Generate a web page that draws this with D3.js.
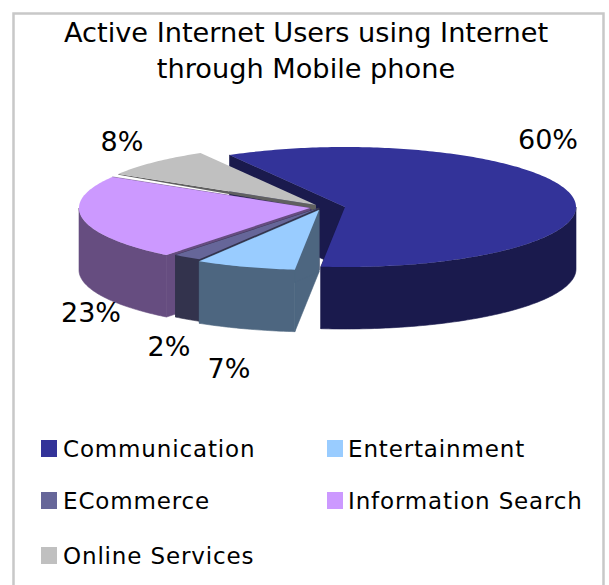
<!DOCTYPE html>
<html>
<head>
<meta charset="utf-8">
<script src="https://cdn.jsdelivr.net/npm/d3@7"></script>
<style>
  html, body { margin: 0; padding: 0; background: #fff; }
  svg { display: block; }
  text { font-family: "DejaVu Sans", Verdana, sans-serif; fill: #000; }
</style>
</head>
<body>
<svg id="chart" width="609" height="585"></svg>
<script>
// Share of active internet users per mobile activity
const categories = ["Communication", "Entertainment", "ECommerce", "Information Search", "Online Services"];
const shares = [60, 7, 2, 23, 8];
const titleLines = ["Active Internet Users using Internet", "through Mobile phone"];

const topColors = ["#333399", "#99ccff", "#666699", "#cc99ff", "#c0c0c0"];
const wallColors = ["#1a1a4d", "#4d6680", "#33334d", "#664d80", "#606060"];

// Each exploded wedge sits on its own apex
const apexX = [345, 319, 319, 310, 316];
const apexY = [207, 210, 208, 208, 205];
const labelX = [548, 229, 169, 91, 122];
const labelY = [149, 378, 356, 322, 151];

const rx = 231, ry = 60, depth = 62;

const svg = d3.select("#chart");

svg.append("path")
  .attr("d", "M13.5,585V13.5H603.5V585")
  .attr("fill", "none")
  .attr("stroke", "#c8c8c8")
  .attr("stroke-width", 2.5);

svg.selectAll("text.title")
  .data(titleLines)
  .join("text")
  .attr("class", "title")
  .attr("x", 306)
  .attr("y", (d, i) => 42 + i * 36)
  .attr("text-anchor", "middle")
  .attr("font-size", 27.2)
  .text(d => d);

const startDeg = -30;
const pie = d3.pie().sort(null)
  .startAngle(startDeg * Math.PI / 180)
  .endAngle((startDeg + 360) * Math.PI / 180);
const slices = pie(shares);

// Maps a pie angle on to the tilted ellipse around a wedge's apex
const rim = (i, a, drop = 0) => [
  apexX[i] + rx * Math.sin(a),
  apexY[i] - ry * Math.cos(a) + drop
];
const outline = d3.line();

function arcPoints(i, a0, a1, drop) {
  const n = Math.max(2, Math.ceil((a1 - a0) * 60));
  return d3.range(n + 1).map(k => rim(i, a0 + (a1 - a0) * k / n, drop));
}

function radialWall(i, a) {
  const apex = [apexX[i], apexY[i]];
  return [apex, rim(i, a), rim(i, a, depth), [apex[0], apex[1] + depth]];
}

// Thin seam plus a short stub at the apex, for a wall that is nearly edge-on
function seamWall(i, a) {
  const apex = [apexX[i], apexY[i]];
  const [ex, ey] = rim(i, a);
  return [apex, [ex, ey], [ex, ey + 0.8], [apex[0] - 8, apex[1] + 3], [apex[0], apex[1] + 7]];
}

function rimWall(i, a0, a1) {
  // Only the part of the rim that faces the viewer is visible
  const lo = Math.max(a0, Math.PI / 2), hi = Math.min(a1, Math.PI * 1.5);
  if (hi <= lo) return null;
  return arcPoints(i, lo, hi, 0).concat(arcPoints(i, lo, hi, depth).reverse());
}

// Back-to-front: the large wedge first, the front wedge last
const paintOrder = [0, 4, 3, 2, 1];
const seamWedge = categories.indexOf("Online Services");

const wedges = svg.selectAll("g.wedge")
  .data(paintOrder)
  .join("g")
  .attr("class", "wedge");

wedges.each(function (i) {
  const g = d3.select(this);
  const s = slices[i];
  const walls = i === seamWedge
    ? [seamWall(i, s.startAngle)]
    : [radialWall(i, s.startAngle), radialWall(i, s.endAngle)];
  const side = rimWall(i, s.startAngle, s.endAngle);
  if (side) walls.push(side);
  g.selectAll("path.wall")
    .data(walls)
    .join("path")
    .attr("class", "wall")
    .attr("d", d => outline(d) + "Z")
    .attr("fill", wallColors[i])
    .attr("stroke", i === seamWedge ? "none" : wallColors[i])
    .attr("stroke-width", 0.6);
  const top = [[apexX[i], apexY[i]]].concat(arcPoints(i, s.startAngle, s.endAngle, 0));
  g.append("path")
    .attr("class", "top")
    .attr("d", outline(top) + "Z")
    .attr("fill", topColors[i]);
});

svg.selectAll("text.pct")
  .data(shares)
  .join("text")
  .attr("class", "pct")
  .attr("x", (d, i) => labelX[i])
  .attr("y", (d, i) => labelY[i])
  .attr("text-anchor", "middle")
  .attr("font-size", 27)
  .text(d => d + "%");

// Two-column legend, filled row by row
const legendCol = d3.scaleOrdinal().domain([0, 1]).range([41, 327]);
const legendRow = d3.scaleOrdinal().domain([0, 1, 2]).range([440, 492, 547]);

const legend = svg.selectAll("g.legend")
  .data(categories)
  .join("g")
  .attr("class", "legend")
  .attr("transform", (d, i) => `translate(${legendCol(i % 2)},${legendRow(Math.floor(i / 2))})`);

legend.append("rect")
  .attr("width", 16)
  .attr("height", 17)
  .attr("fill", (d, i) => topColors[i]);

legend.append("text")
  .attr("x", (d, i) => i % 2 ? 21 : 22)
  .attr("y", 17)
  .attr("font-size", 23)
  .attr("letter-spacing", 0.85)
  .text(d => d);
</script>
</body>
</html>
